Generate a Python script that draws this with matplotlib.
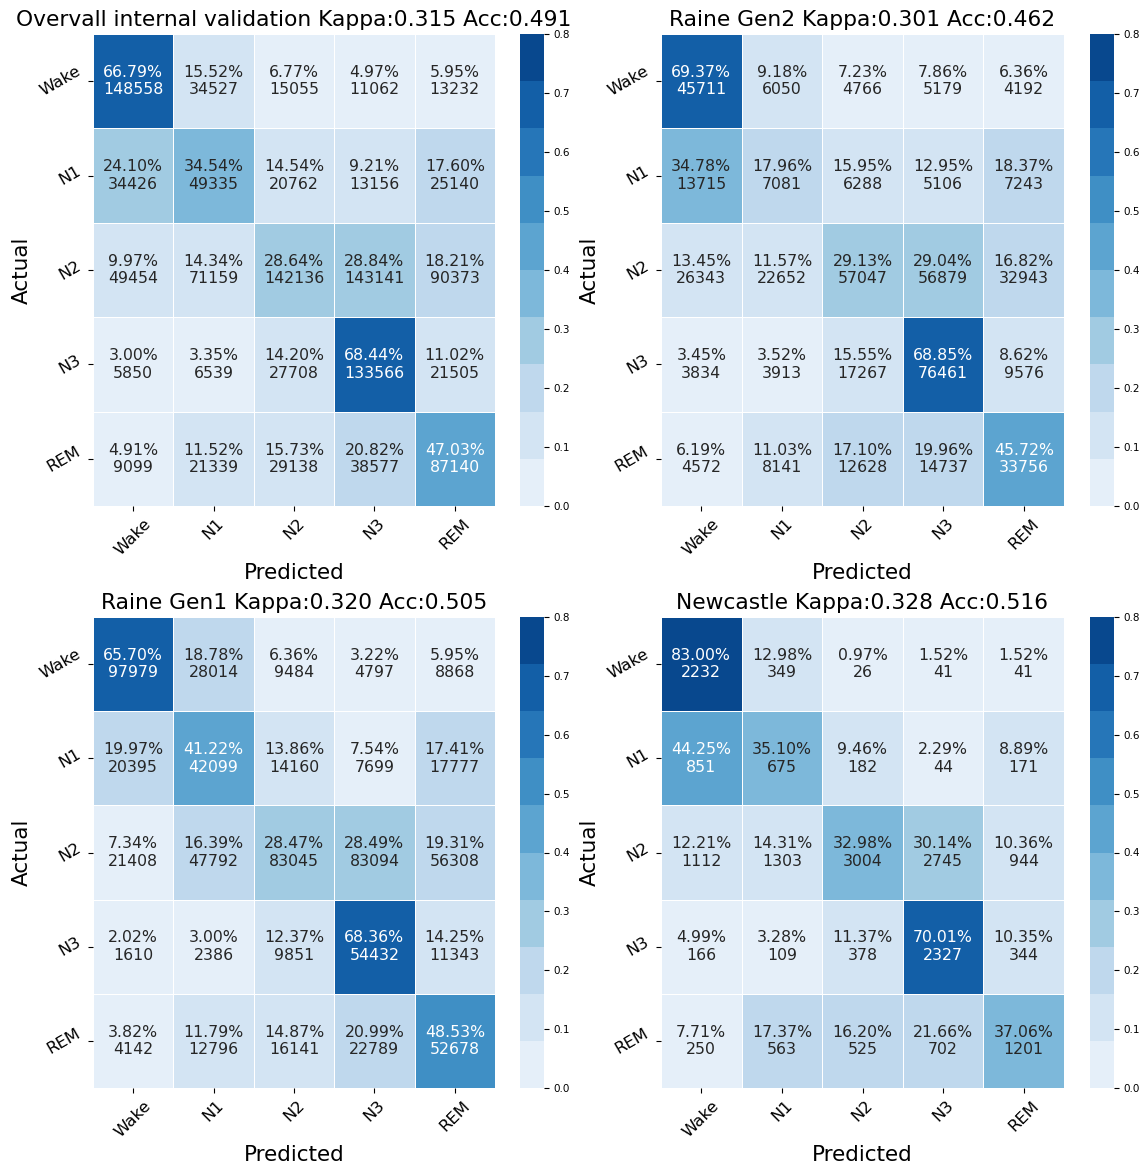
import numpy as np
import matplotlib
matplotlib.use("Agg")
import matplotlib.pyplot as plt
import seaborn as sns
from matplotlib.colors import ListedColormap

stages = ["Wake", "N1", "N2", "N3", "REM"]

titles = [
    "Overvall internal validation Kappa:0.315 Acc:0.491",
    "Raine Gen2 Kappa:0.301 Acc:0.462",
    "Raine Gen1 Kappa:0.320 Acc:0.505",
    "Newcastle Kappa:0.328 Acc:0.516",
]

counts_overall = [
    [148558, 34527, 15055, 11062, 13232],
    [34426, 49335, 20762, 13156, 25140],
    [49454, 71159, 142136, 143141, 90373],
    [5850, 6539, 27708, 133566, 21505],
    [9099, 21339, 29138, 38577, 87140],
]
counts_gen2 = [
    [45711, 6050, 4766, 5179, 4192],
    [13715, 7081, 6288, 5106, 7243],
    [26343, 22652, 57047, 56879, 32943],
    [3834, 3913, 17267, 76461, 9576],
    [4572, 8141, 12628, 14737, 33756],
]
counts_gen1 = [
    [97979, 28014, 9484, 4797, 8868],
    [20395, 42099, 14160, 7699, 17777],
    [21408, 47792, 83045, 83094, 56308],
    [1610, 2386, 9851, 54432, 11343],
    [4142, 12796, 16141, 22789, 52678],
]
counts_newcastle = [
    [2232, 349, 26, 41, 41],
    [851, 675, 182, 44, 171],
    [1112, 1303, 3004, 2745, 944],
    [166, 109, 378, 2327, 344],
    [250, 563, 525, 702, 1201],
]

all_counts = [counts_overall, counts_gen2, counts_gen1, counts_newcastle]

W, H = 1143, 1165
fig = plt.figure(figsize=(W / 100, H / 100), dpi=100)

cmap = ListedColormap(sns.color_palette("Blues", 10))

# pixel boxes: (left, top, right, bottom) for heatmap and colorbar
heat_boxes = [(93, 34, 495, 506), (661, 34, 1064, 506),
              (93, 617, 495, 1088), (661, 617, 1064, 1088)]
cbar_boxes = [(520, 34, 544, 506), (1090, 34, 1114, 506),
              (520, 617, 544, 1088), (1090, 617, 1114, 1088)]


def box_to_rect(b):
    l, t, r, btm = b
    return [l / W, 1 - btm / H, (r - l) / W, (btm - t) / H]


for counts, title, hb, cb in zip(all_counts, titles, heat_boxes, cbar_boxes):
    cm = np.array(counts, dtype=float)
    frac = cm / cm.sum(axis=1, keepdims=True)
    labels = np.array([[f"{frac[i, j] * 100:.2f}%\n{int(cm[i, j])}"
                        for j in range(5)] for i in range(5)])
    ax = fig.add_axes(box_to_rect(hb))
    cax = fig.add_axes(box_to_rect(cb))
    sns.heatmap(frac, ax=ax, cbar_ax=cax, cmap=cmap, vmin=0, vmax=0.8,
                annot=labels, fmt="", annot_kws={"fontsize": 11.3},
                linewidths=0.7, linecolor="white",
                xticklabels=stages, yticklabels=stages)
    ax.set_title(title, fontsize=15.7)
    ax.set_xlabel("Predicted", fontsize=15.5)
    ax.set_ylabel("Actual", fontsize=15.5)
    ax.set_xticklabels(stages, rotation=45, fontsize=11.8)
    ax.set_yticklabels(stages, rotation=30, fontsize=11.8)
    cax.tick_params(labelsize=7.5)
    cax.set_yticks(np.arange(0, 0.81, 0.1))

fig.savefig("out.png", dpi=100)
